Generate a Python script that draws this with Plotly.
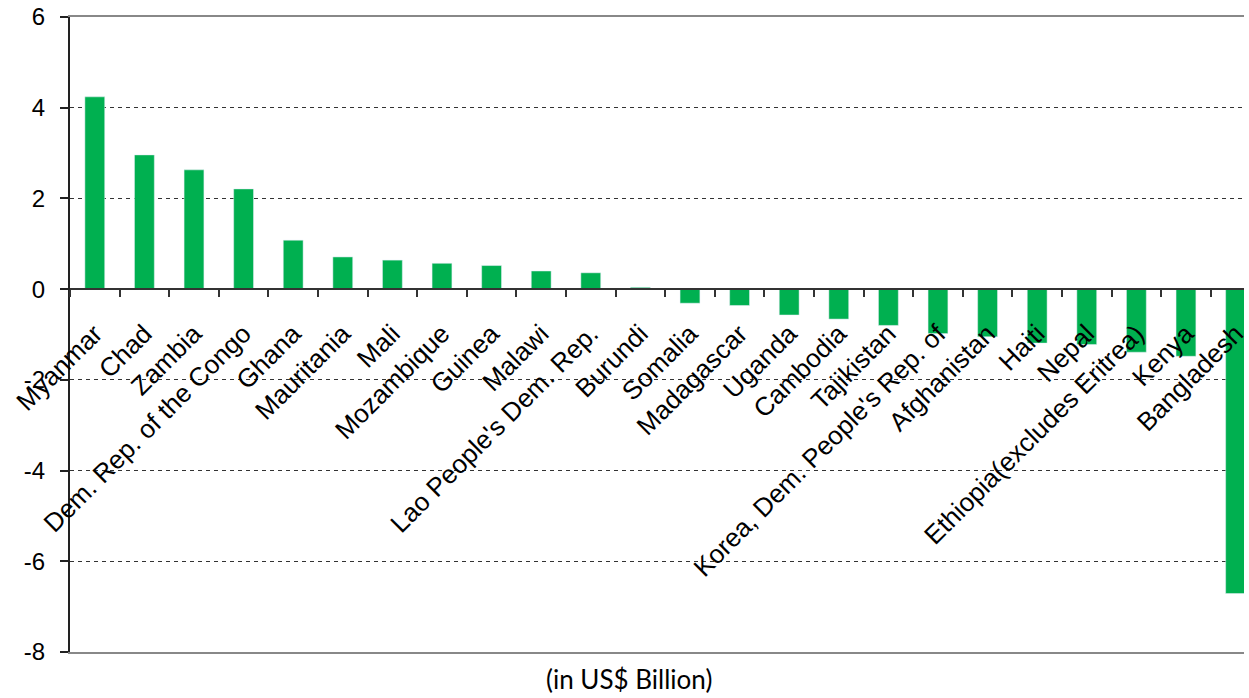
import plotly.graph_objects as go

countries = ["Myanmar", "Chad", "Zambia", "Dem. Rep. of the Congo", "Ghana", "Mauritania",
             "Mali", "Mozambique", "Guinea", "Malawi", "Lao People's Dem. Rep.", "Burundi",
             "Somalia", "Madagascar", "Uganda", "Cambodia", "Tajikistan",
             "Korea, Dem. People's Rep. of", "Afghanistan", "Haiti", "Nepal",
             "Ethiopia(excludes Eritrea)", "Kenya", "Bangladesh"]
values = [4.24, 2.96, 2.63, 2.21, 1.08, 0.71, 0.64, 0.57, 0.52, 0.40, 0.36, 0.04,
          -0.31, -0.36, -0.57, -0.66, -0.80, -0.98, -1.05, -1.19, -1.22, -1.39, -1.48, -6.71]
y_ticks = [-8, -6, -4, -2, 0, 2, 4, 6]
axis_note = "(in US$ Billion)"

GREEN = "#00B050"
xr = [-0.5, 23.17]
FONT = "Liberation Sans, Arial, sans-serif"

fig = go.Figure()
fig.add_trace(go.Bar(x=countries, y=values, marker=dict(color=GREEN, line=dict(width=0)),
                     width=0.4, xaxis="x", yaxis="y", hoverinfo="x+y"))
# invisible copy on frame axis so it renders
fig.add_trace(go.Bar(x=countries, y=values, marker=dict(color="rgba(0,0,0,0)"),
                     width=0.4, xaxis="x2", yaxis="y", hoverinfo="skip", showlegend=False))

fig.update_layout(
    width=1249, height=698,
    margin=dict(l=70, r=0, t=17, b=46),
    paper_bgcolor="white", plot_bgcolor="white",
    showlegend=False, bargap=0.6,
    font=dict(family=FONT, color="black"),
    xaxis=dict(type="category", categoryorder="array", categoryarray=countries,
               range=xr, anchor="free", position=8/14,
               showline=True, linecolor="#333333", linewidth=2,
               ticks="outside", ticklen=7, tickwidth=2, tickcolor="#333333",
               tickson="boundaries", tickangle=-45, ticklabelstandoff=18,
               tickfont=dict(size=26, family=FONT, color="black"),
               showgrid=False, zeroline=False),
    xaxis2=dict(type="category", categoryorder="array", categoryarray=countries,
                range=xr, overlaying="x", anchor="y", side="bottom",
                showline=True, mirror=True, linecolor="#888888", linewidth=2,
                showticklabels=False, ticks="", showgrid=False, zeroline=False),
    yaxis=dict(range=[-8, 6], tickvals=y_ticks, ticktext=[str(v) for v in y_ticks],
               showline=True, linecolor="#222222", linewidth=2,
               ticks="outside", ticklen=8, tickwidth=2, tickcolor="#222222",
               ticklabelstandoff=10,
               tickfont=dict(size=24, family=FONT, color="black"),
               showgrid=True, gridcolor="#333333", gridwidth=1, griddash="4px,4px",
               zeroline=True, zerolinecolor="#333333", zerolinewidth=2),
    annotations=[dict(text=axis_note, xref="paper", yref="paper", x=0.476, y=-0.014,
                      xanchor="center", yanchor="top", showarrow=False,
                      font=dict(size=26, family="Lato, Carlito, Calibri, sans-serif", color="black"))],
)

fig.write_html("out.html", config={"displayModeBar": False},
               post_script="document.body.style.margin='0';document.body.style.overflow='hidden';")
